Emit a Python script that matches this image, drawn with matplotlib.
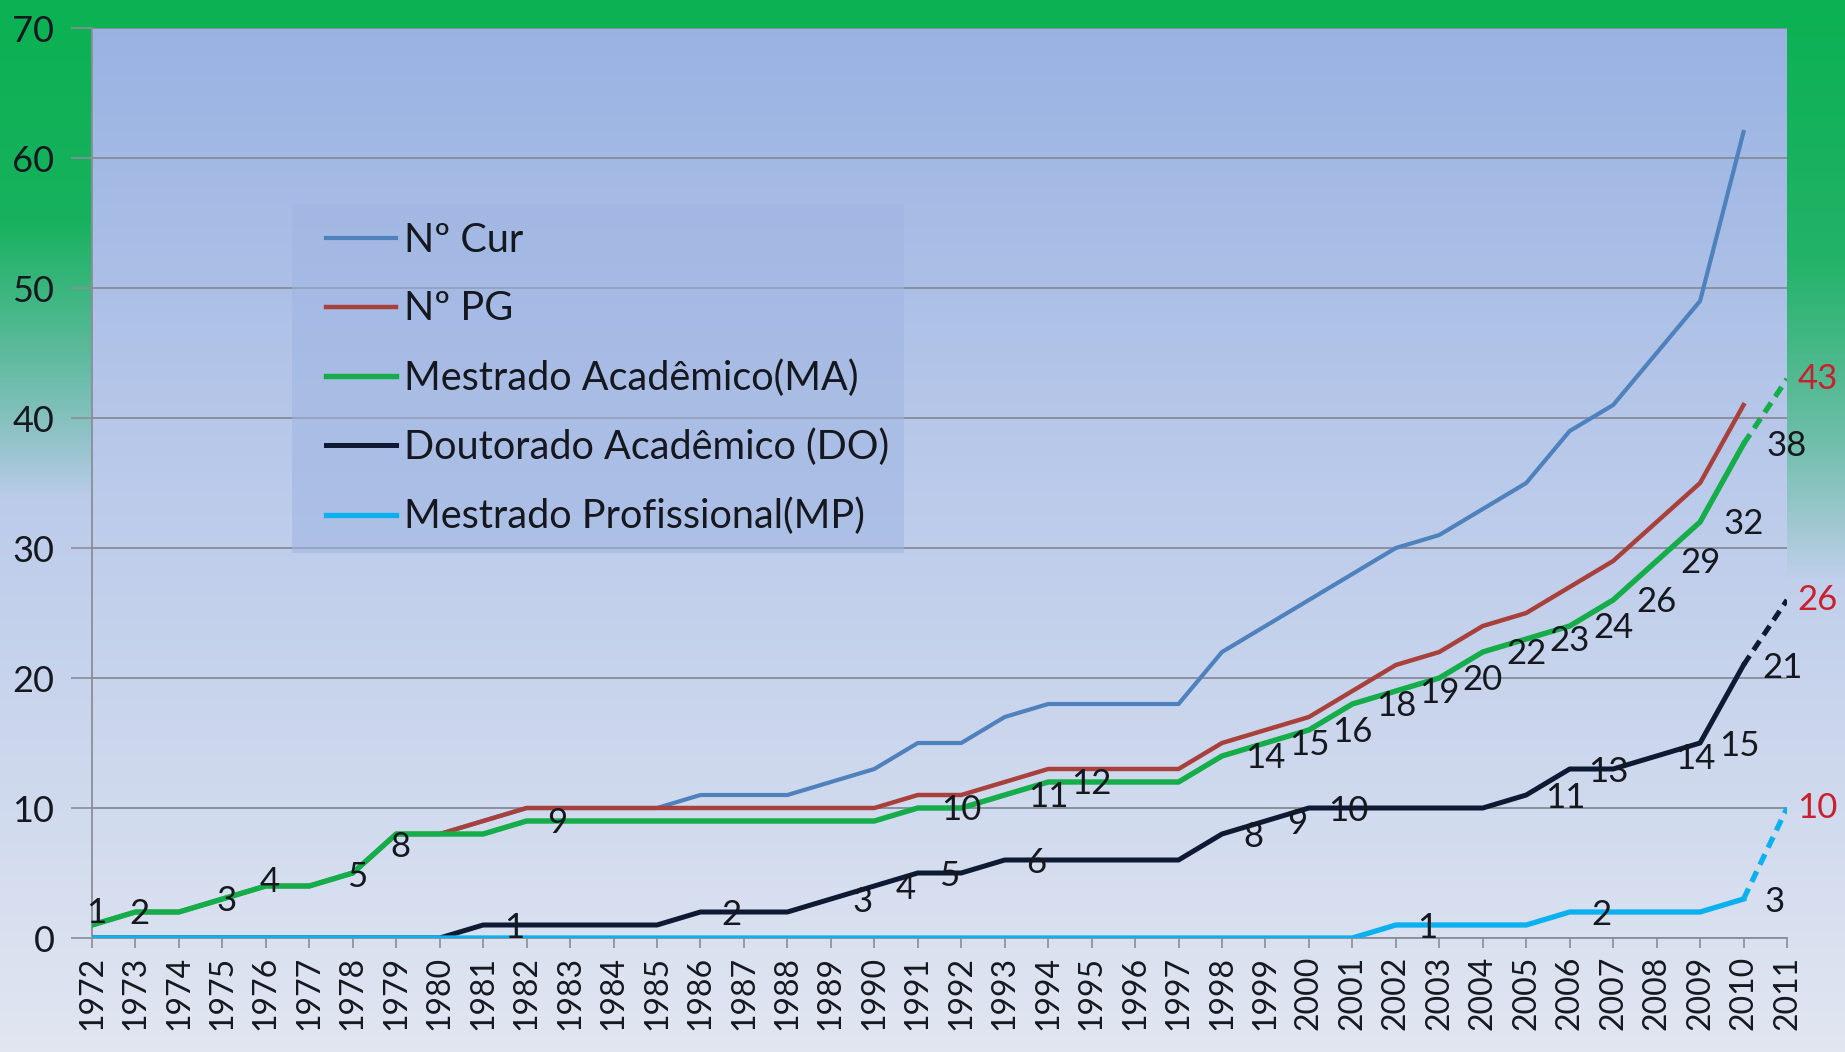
import numpy as np
import matplotlib
matplotlib.use("Agg")
import matplotlib.pyplot as plt
from matplotlib.colors import to_rgb
from matplotlib.lines import Line2D
from matplotlib.legend_handler import HandlerLine2D

# dados
years = list(range(1972, 2011))
n_cur = [1, 2, 2, 3, 4, 4, 5, 8, 8, 9, 10, 10, 10, 10, 11, 11, 11, 12, 13, 15,
         15, 17, 18, 18, 18, 18, 22, 24, 26, 28, 30, 31, 33, 35, 39, 41, 45, 49, 62]
n_pg = [1, 2, 2, 3, 4, 4, 5, 8, 8, 9, 10, 10, 10, 10, 10, 10, 10, 10, 10, 11,
        11, 12, 13, 13, 13, 13, 15, 16, 17, 19, 21, 22, 24, 25, 27, 29, 32, 35, 41]
ma = [1, 2, 2, 3, 4, 4, 5, 8, 8, 8, 9, 9, 9, 9, 9, 9, 9, 9, 9, 10,
      10, 11, 12, 12, 12, 12, 14, 15, 16, 18, 19, 20, 22, 23, 24, 26, 29, 32, 38]
do = [0, 0, 0, 0, 0, 0, 0, 0, 0, 1, 1, 1, 1, 1, 2, 2, 2, 3, 4, 5,
      5, 6, 6, 6, 6, 6, 8, 9, 10, 10, 10, 10, 10, 11, 13, 13, 14, 15, 21]
mp = [0, 0, 0, 0, 0, 0, 0, 0, 0, 0, 0, 0, 0, 0, 0, 0, 0, 0, 0, 0,
      0, 0, 0, 0, 0, 0, 0, 0, 0, 0, 1, 1, 1, 1, 2, 2, 2, 2, 3]

# projeção 2011
year_proj = 2011
ma_proj = 43
do_proj = 26
mp_proj = 10

labels_ma = [1972, 1973, 1975, 1976, 1978, 1979, 1982, 1991, 1993, 1994, 1998, 1999,
             2000, 2001, 2002, 2003, 2004, 2005, 2006, 2007, 2008, 2009, 2010]
labels_do = [1981, 1986, 1989, 1990, 1991, 1993, 1998, 1999, 2000, 2005, 2006, 2008,
             2009, 2010]
labels_mp = [2002, 2006, 2010]

series_names = ["Nº Cur", "Nº PG", "Mestrado Acadêmico(MA)",
                "Doutorado Acadêmico (DO)", "Mestrado Profissional(MP)"]

c_cur = "#4F81BD"
c_pg = "#A8403B"
c_ma = "#14AD4A"
c_do = "#0E1A33"
c_mp = "#0BB0EE"
c_red = "#C8202E"
c_txt = "#15181F"

plt.rcParams['font.family'] = ['Lato', 'DejaVu Sans']

W, H = 1845, 1052
fig = plt.figure(figsize=(W / 100, H / 100), dpi=100)


def vgrad(stops, n):
    fr = [s[0] for s in stops]
    cols = np.array([to_rgb(s[1]) for s in stops])
    t = np.linspace(0, 1, n)
    return np.stack([np.interp(t, fr, cols[:, k]) for k in range(3)], axis=1)


# fundo: degradê azul + moldura verde
bg = np.zeros((H, W, 3))
bg[:] = vgrad([(0, "#97B1E2"), (0.45, "#BACAEA"), (1, "#E1E6F1")], H)[:, None, :]
green = np.array(to_rgb("#0BB152"))
rows = np.arange(H)
a_left = np.interp(rows, [0, 220, 370, 500], [1, 0.92, 0.45, 0])[:, None, None]
a_right = np.interp(rows, [0, 260, 430, 580], [1, 0.85, 0.45, 0])[:, None, None]
bg[:, :92] = a_left * green + (1 - a_left) * bg[:, :92]
bg[:, 1787:] = a_right * green + (1 - a_right) * bg[:, 1787:]
bg[:28] = green
fig.figimage(bg, xo=0, yo=0, origin='upper', zorder=-5)

ax = fig.add_axes([92 / W, 1 - 938 / H, (1787 - 92) / W, (938 - 28) / H])
ax.set_facecolor("none")

ax.plot(years, n_cur, color=c_cur, lw=3.0, label=series_names[0], zorder=3)
ax.plot(years, n_pg, color=c_pg, lw=3.2, label=series_names[1], zorder=4)
ax.plot(years, ma, color=c_ma, lw=3.9, label=series_names[2], zorder=5)
ax.plot(years, do, color=c_do, lw=3.6, label=series_names[3], zorder=6)
ax.plot(years, mp, color=c_mp, lw=3.8, label=series_names[4], zorder=7)

ax.plot([years[-1], year_proj], [ma[-1], ma_proj], color=c_ma, lw=3.8, ls=(0, (2.2, 1.4)), zorder=5)
ax.plot([years[-1], year_proj], [do[-1], do_proj], color=c_do, lw=3.6, ls=(0, (2.2, 1.4)), zorder=6)
ax.plot([years[-1], year_proj], [mp[-1], mp_proj], color=c_mp, lw=3.8, ls=(0, (2.2, 1.4)), zorder=7)

# rótulos dos valores
fs_lab = 25
special_dy = {1972: 0.9, 1976: 0.3, 1978: -0.3, 1979: -1.0}
for y in labels_ma:
    v = ma[years.index(y)]
    dx = 0.1 if y < 1980 else (0.7 if y == 1982 else 1.0)
    dy = special_dy.get(y, -0.15)
    ax.text(y + dx, v + dy, str(v), fontsize=fs_lab, color=c_txt,
            ha='center', va='center', zorder=8, clip_on=False)
for y in labels_do:
    v = do[years.index(y)]
    dx = 0.9 if y >= 2000 else 0.72
    ax.text(y + dx, v - 0.2, str(v), fontsize=fs_lab, color=c_txt,
            ha='center', va='center', zorder=8, clip_on=False)
for y in labels_mp:
    v = mp[years.index(y)]
    ax.text(y + 0.72, v - 0.2, str(v), fontsize=fs_lab, color=c_txt,
            ha='center', va='center', zorder=8, clip_on=False)
for v in [ma_proj, do_proj, mp_proj]:
    ax.text(year_proj + 0.7, v, str(v), fontsize=fs_lab, color=c_red,
            ha='center', va='center', zorder=8, clip_on=False)

ax.set_xlim(1972, 2011)
ax.set_ylim(0, 70)
ax.set_xticks(range(1972, 2012))
ax.set_xticklabels([str(y) for y in range(1972, 2012)], rotation=90,
                   fontsize=23, color=c_txt)
ax.set_yticks(range(0, 71, 10))
ax.tick_params(axis='y', labelsize=26, labelcolor=c_txt, length=15,
               width=1.2, color="#8A8E99", pad=12)
ax.tick_params(axis='x', length=7, width=1.2, color="#8A8E99", pad=6)
ax.grid(axis='y', color="#868B98", lw=1.3)
ax.set_axisbelow(True)
for s in ['top', 'right']:
    ax.spines[s].set_visible(False)
for s in ['left', 'bottom']:
    ax.spines[s].set_color("#8A8E99")
    ax.spines[s].set_linewidth(1.3)

leg = ax.legend(loc='upper left', bbox_to_anchor=(0.118, 0.4253, 0.361, 0.3813),
                mode='expand', fontsize=28.5, frameon=True, fancybox=False,
                handlelength=2.18, handletextpad=0.2, labelspacing=0.8,
                borderpad=0.45, borderaxespad=0,
                handler_map={Line2D: HandlerLine2D(xpad=0.4)})
leg.get_frame().set_facecolor("#9FB5E2")
leg.get_frame().set_alpha(0.55)
leg.get_frame().set_edgecolor("none")
for t in leg.get_texts():
    t.set_color(c_txt)
leg.set_zorder(2)

fig.savefig("out.png", dpi=100)
